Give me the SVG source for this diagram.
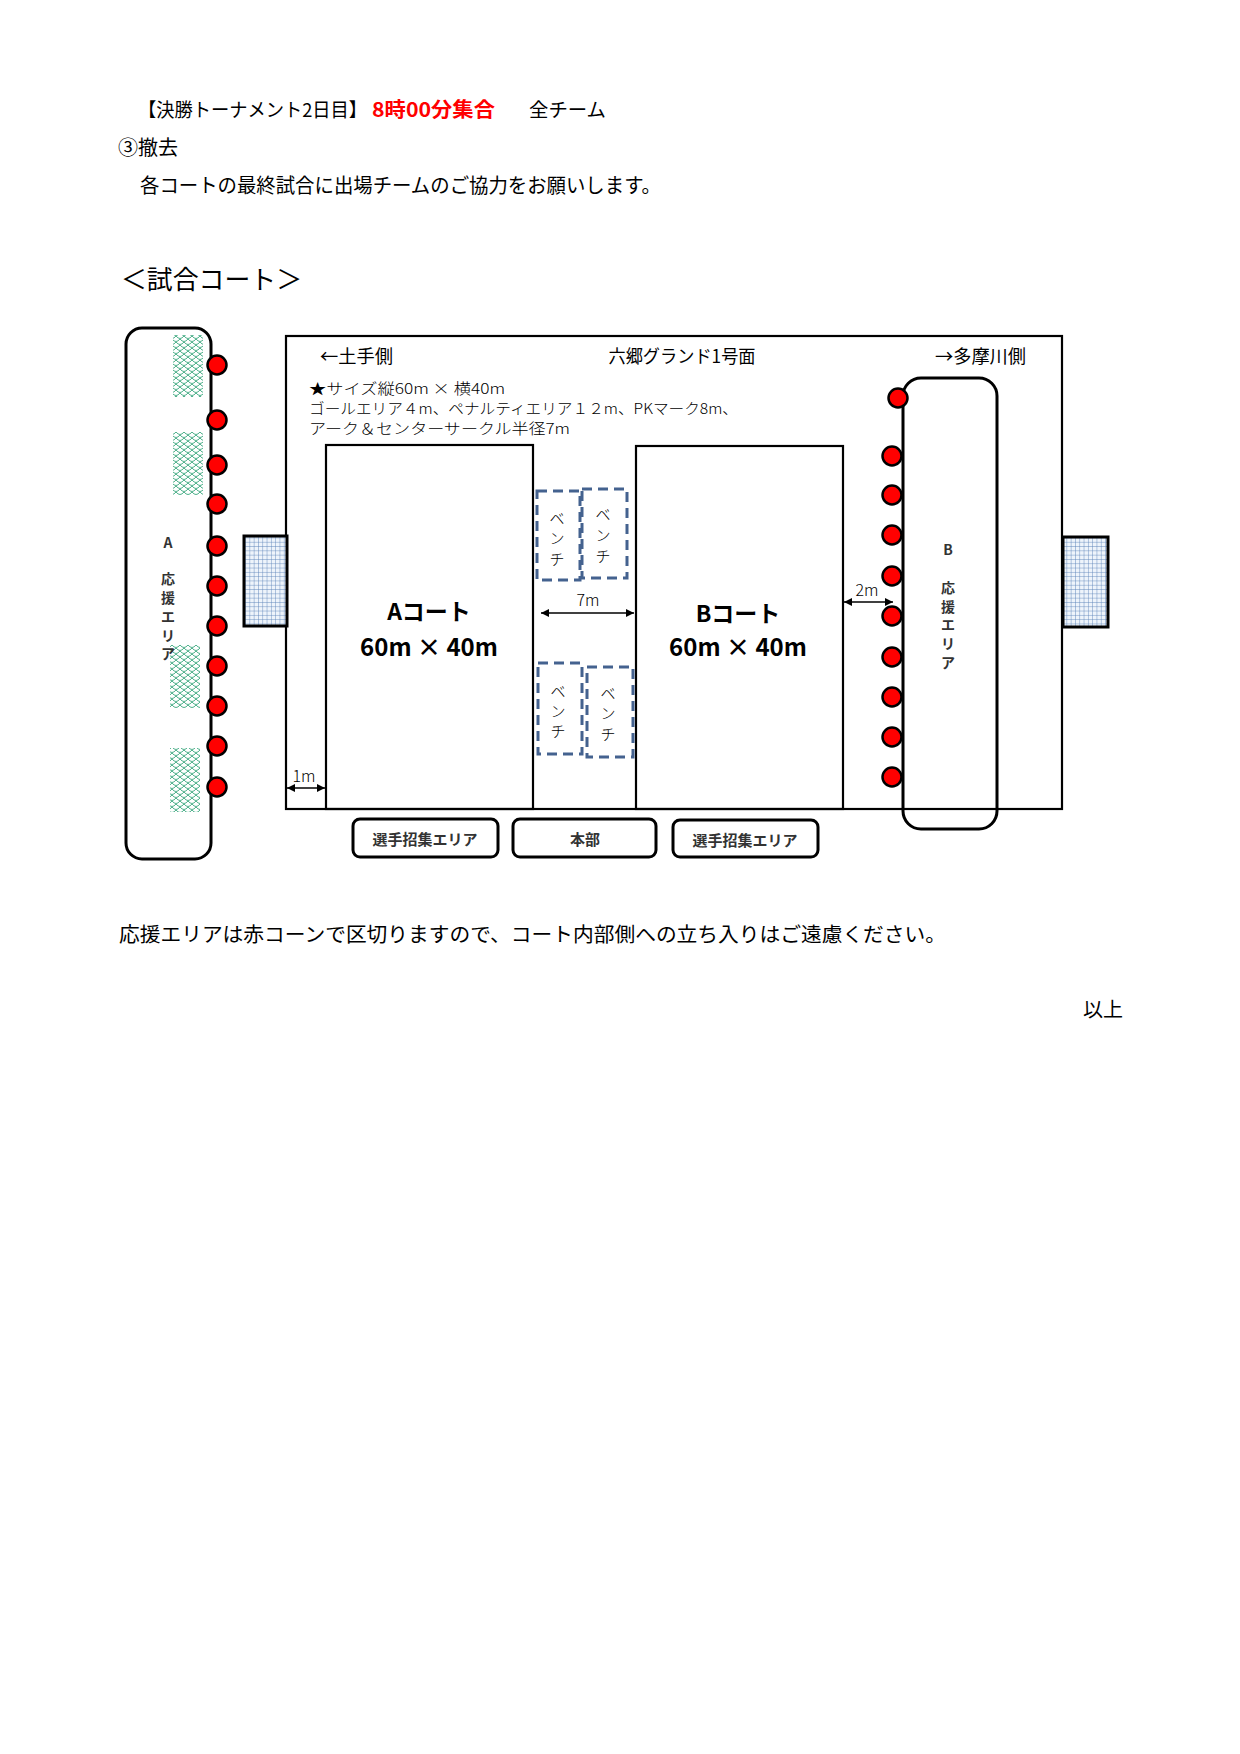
<svg xmlns="http://www.w3.org/2000/svg" width="1240" height="1754" viewBox="0 0 1240 1754">
<style>
text{font-family:"Noto Sans CJK JP","Noto Sans",sans-serif;fill:#000;dominant-baseline:central}
.b{font-weight:bold}
.thin{font-weight:300}
.red{fill:#ff0000}
.g{fill:#333}
.line{fill:none;stroke:#000;stroke-width:2.2}
.sup{fill:none;stroke:#000;stroke-width:3}
.dot{fill:#ff0000;stroke:#000;stroke-width:2.5}
.bench{fill:none;stroke:#44628f;stroke-width:3;stroke-dasharray:10 6}
.box{fill:#fff;stroke:#000;stroke-width:3}
.goal{fill:url(#grid);stroke:#000;stroke-width:3}
.net{fill:url(#scale)}
.dim{stroke:#000;stroke-width:1.6;marker-start:url(#ah);marker-end:url(#ah)}
</style>
<defs>
<pattern id="grid" width="4.3" height="4.3" patternUnits="userSpaceOnUse">
<rect width="4.3" height="4.3" fill="#eef4fb"/>
<path d="M0,0 H4.3 M0,0 V4.3" stroke="#5b82b8" stroke-width="0.9" fill="none"/>
</pattern>
<pattern id="scale" width="8" height="6" patternUnits="userSpaceOnUse">
<path d="M0,0 Q4,5 8,0 M-4,3 Q0,8 4,3 M4,3 Q8,8 12,3" stroke="#1f9a6c" stroke-width="0.8" fill="none"/>
</pattern>
<marker id="ah" viewBox="0 0 10 10" refX="10" refY="5" markerWidth="9" markerHeight="8" markerUnits="userSpaceOnUse" orient="auto-start-reverse">
<path d="M0,0 L10,5 L0,10 z" fill="#000"/>
</marker>
</defs>
<rect width="1240" height="1754" fill="#fff"/>

<g id="header">
<text x="138" y="108" font-size="19" textLength="229" lengthAdjust="spacingAndGlyphs">【決勝トーナメント2日目】</text>
<text x="372" y="108" font-size="20" class="b red" textLength="123" lengthAdjust="spacingAndGlyphs">8時00分集合</text>
<text x="529" y="108" font-size="19" textLength="77" lengthAdjust="spacingAndGlyphs">全チーム</text>
<text x="118" y="146" font-size="20">③撤去</text>
<text x="140" y="184" font-size="20" textLength="521" lengthAdjust="spacingAndGlyphs">各コートの最終試合に出場チームのご協力をお願いします。</text>
<text x="121" y="277" font-size="26" textLength="181" lengthAdjust="spacingAndGlyphs">＜試合コート＞</text>
</g>

<g id="field">
<rect class="line" x="286" y="336" width="776" height="473"/>
<text x="320" y="355" font-size="18" textLength="73" lengthAdjust="spacingAndGlyphs">←土手側</text>
<text x="682" y="355" font-size="18" text-anchor="middle" textLength="147" lengthAdjust="spacingAndGlyphs">六郷グランド1号面</text>
<text x="935" y="355" font-size="18" textLength="91" lengthAdjust="spacingAndGlyphs">→多摩川側</text>
<text x="309" y="387" font-size="15" class="thin" textLength="196" lengthAdjust="spacingAndGlyphs">★サイズ縦60m × 横40m</text>
<text x="309" y="407" font-size="15" class="thin" textLength="429" lengthAdjust="spacingAndGlyphs">ゴールエリア４m、ペナルティエリア１２m、PKマーク8m、</text>
<text x="309" y="427" font-size="15" class="thin" textLength="261" lengthAdjust="spacingAndGlyphs">アーク＆センターサークル半径7m</text>
</g>

<g id="court-a">
<rect class="line" x="326" y="445" width="207" height="364" fill="#fff"/>
<text x="429" y="610" font-size="23" class="b" text-anchor="middle">Aコート</text>
<text x="429" y="645" font-size="24" class="b" text-anchor="middle">60m × 40m</text>
</g>

<g id="court-b">
<rect class="line" x="636" y="446" width="207" height="363" fill="#fff"/>
<text x="738" y="612" font-size="23" class="b" text-anchor="middle">Bコート</text>
<text x="738" y="645" font-size="24" class="b" text-anchor="middle">60m × 40m</text>
</g>

<g id="bench-1">
<rect class="bench" x="537" y="491" width="43" height="89"/>
<text font-size="15" class="thin" text-anchor="middle"><tspan x="557" y="517">ベ</tspan><tspan x="557" y="537">ン</tspan><tspan x="557" y="558">チ</tspan></text>
</g>
<g id="bench-2">
<rect class="bench" x="582" y="489" width="45" height="89"/>
<text font-size="15" class="thin" text-anchor="middle"><tspan x="603" y="513">ベ</tspan><tspan x="603" y="534">ン</tspan><tspan x="603" y="555">チ</tspan></text>
</g>
<g id="bench-3">
<rect class="bench" x="538" y="663" width="44" height="91"/>
<text font-size="15" class="thin" text-anchor="middle"><tspan x="558" y="690">ベ</tspan><tspan x="558" y="710">ン</tspan><tspan x="558" y="730">チ</tspan></text>
</g>
<g id="bench-4">
<rect class="bench" x="587" y="667" width="46" height="90"/>
<text font-size="15" class="thin" text-anchor="middle"><tspan x="608" y="692">ベ</tspan><tspan x="608" y="712">ン</tspan><tspan x="608" y="733">チ</tspan></text>
</g>

<g id="support-a">
<rect class="net" x="173" y="335" width="30" height="62"/>
<rect class="net" x="173" y="432" width="30" height="63"/>
<rect class="net" x="170" y="645" width="30" height="63"/>
<rect class="net" x="170" y="748" width="30" height="64"/>
<rect class="sup" x="126" y="328" width="85" height="531" rx="16"/>
<text x="168" y="542" font-size="14" class="b g" text-anchor="middle">A</text>
<text font-size="14" class="b g" text-anchor="middle"><tspan x="168" y="578">応</tspan><tspan x="168" y="597">援</tspan><tspan x="168" y="616">エ</tspan><tspan x="168" y="635">リ</tspan><tspan x="168" y="653">ア</tspan></text>
<circle class="dot" cx="217" cy="365" r="9.5"/>
<circle class="dot" cx="217" cy="420" r="9.5"/>
<circle class="dot" cx="217" cy="465" r="9.5"/>
<circle class="dot" cx="217" cy="504" r="9.5"/>
<circle class="dot" cx="217" cy="546" r="9.5"/>
<circle class="dot" cx="217" cy="586" r="9.5"/>
<circle class="dot" cx="217" cy="626" r="9.5"/>
<circle class="dot" cx="217" cy="666" r="9.5"/>
<circle class="dot" cx="217" cy="706" r="9.5"/>
<circle class="dot" cx="217" cy="746" r="9.5"/>
<circle class="dot" cx="217" cy="787" r="9.5"/>
</g>

<g id="support-b">
<rect class="sup" x="903" y="378" width="94" height="451" rx="18"/>
<text x="948" y="549" font-size="14" class="b g" text-anchor="middle">B</text>
<text font-size="14" class="b g" text-anchor="middle"><tspan x="948" y="587">応</tspan><tspan x="948" y="606">援</tspan><tspan x="948" y="624">エ</tspan><tspan x="948" y="643">リ</tspan><tspan x="948" y="662">ア</tspan></text>
<circle class="dot" cx="898" cy="398" r="9.5"/>
<circle class="dot" cx="892" cy="456" r="9.5"/>
<circle class="dot" cx="892" cy="495" r="9.5"/>
<circle class="dot" cx="892" cy="535" r="9.5"/>
<circle class="dot" cx="892" cy="576" r="9.5"/>
<circle class="dot" cx="892" cy="616" r="9.5"/>
<circle class="dot" cx="892" cy="657" r="9.5"/>
<circle class="dot" cx="892" cy="697" r="9.5"/>
<circle class="dot" cx="892" cy="737" r="9.5"/>
<circle class="dot" cx="892" cy="777" r="9.5"/>
</g>

<g id="goal-left"><rect class="goal" x="244" y="536" width="43" height="90"/></g>
<g id="goal-right"><rect class="goal" x="1063" y="537" width="45" height="90"/></g>

<g id="box-entry-a">
<rect class="box" x="353" y="819" width="145" height="38" rx="7"/>
<text x="425" y="838" font-size="15" class="b g" text-anchor="middle">選手招集エリア</text>
</g>
<g id="box-hq">
<rect class="box" x="513" y="819" width="143" height="38" rx="7"/>
<text x="585" y="838" font-size="15" class="b g" text-anchor="middle">本部</text>
</g>
<g id="box-entry-b">
<rect class="box" x="673" y="820" width="145" height="37" rx="7"/>
<text x="745" y="839" font-size="15" class="b g" text-anchor="middle">選手招集エリア</text>
</g>

<g id="connectors">
<line class="dim" x1="287" y1="788" x2="325" y2="788"/>
<line class="dim" x1="541" y1="613" x2="634" y2="613"/>
<line class="dim" x1="844" y1="602" x2="893" y2="602"/>
</g>
<g id="dim-labels">
<text x="304" y="775" font-size="16" class="thin" text-anchor="middle">1m</text>
<text x="588" y="599" font-size="16" class="thin" text-anchor="middle">7m</text>
<text x="867" y="589" font-size="16" class="thin" text-anchor="middle">2m</text>
</g>

<g id="footer">
<text x="119" y="933" font-size="20" textLength="827" lengthAdjust="spacingAndGlyphs">応援エリアは赤コーンで区切りますので、コート内部側への立ち入りはご遠慮ください。</text>
<text x="1083" y="1008" font-size="20">以上</text>
</g>
</svg>
